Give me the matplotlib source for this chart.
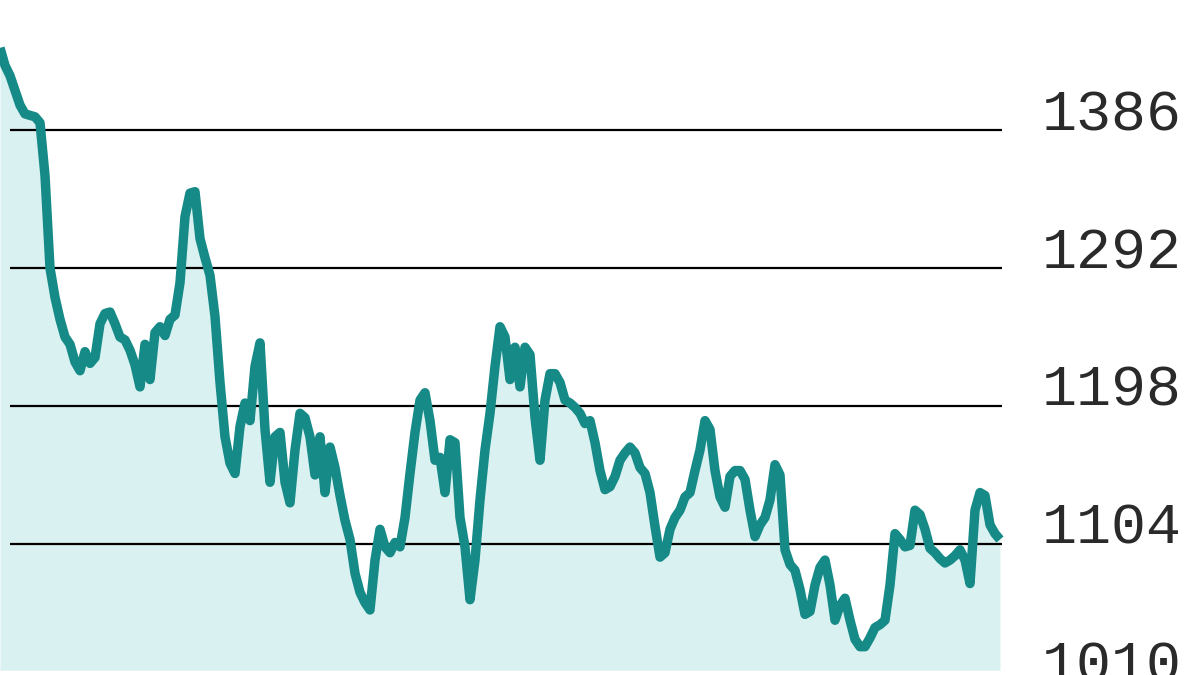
import numpy as np
import matplotlib
matplotlib.use("Agg")
from matplotlib import pyplot as plt
import matplotlib.transforms as mtransforms

# index level, one reading per step
levels = [
    1442, 1430, 1423, 1413, 1403, 1397, 1396, 1395, 1391, 1355,
    1292, 1272, 1257, 1245, 1240, 1228, 1222, 1235, 1227, 1231,
    1254, 1261, 1262, 1254, 1245, 1243, 1236, 1226, 1211, 1240,
    1216, 1248, 1252, 1246, 1257, 1260, 1282, 1327, 1343, 1344,
    1312, 1299, 1287, 1259, 1214, 1177, 1159, 1152, 1184, 1200,
    1188, 1225, 1241, 1182, 1146, 1177, 1180, 1146, 1132, 1168,
    1193, 1190, 1177, 1151, 1177, 1139, 1170, 1156, 1137, 1120,
    1107, 1084, 1071, 1064, 1059, 1093, 1114, 1102, 1098, 1105,
    1102, 1122, 1152, 1180, 1202, 1207, 1188, 1161, 1163, 1139,
    1175, 1173, 1122, 1102, 1066, 1093, 1134, 1168, 1193, 1225,
    1252, 1245, 1216, 1238, 1211, 1238, 1233, 1190, 1161, 1202,
    1220, 1220, 1214, 1202, 1200, 1197, 1193, 1186, 1188, 1173,
    1154, 1141, 1143, 1150, 1161, 1166, 1170, 1166, 1156, 1152,
    1139, 1116, 1095, 1098, 1114, 1122, 1127, 1136, 1139, 1154,
    1168, 1188, 1182, 1154, 1136, 1129, 1150, 1154, 1154, 1148,
    1127, 1109, 1117, 1122, 1134, 1158, 1151, 1100, 1090, 1086,
    1073, 1056, 1058, 1076, 1088, 1093, 1076, 1052, 1062, 1067,
    1052, 1039, 1034, 1034, 1040, 1047, 1049, 1052, 1076, 1111,
    1107, 1102, 1103, 1127, 1124, 1114, 1101, 1098, 1094, 1091,
    1093, 1096, 1100, 1093, 1077, 1127, 1139, 1137, 1117, 1111,
    1107,
]
grid_levels = [1386, 1292, 1198, 1104, 1010]
grid_labels = ["1386", "1292", "1198", "1104", "1010"]

LINE = "#168a87"
FILL = "#daf1f1"

x = np.arange(len(levels))
y = np.array(levels)

fig = plt.figure(figsize=(12, 6.75), dpi=100)
ax = fig.add_axes([0, 0, 1, 1])
ax.set_xlim(0, 240)
ax.set_ylim(1014.7, 1474.6)
ax.axis("off")

ax.fill_between(x, y, 1018, color=FILL, lw=0, zorder=1)
ax.hlines(grid_levels, 2, 200.4, color="black", lw=1.6, zorder=2)
ax.plot(x, y, color=LINE, lw=6.8, solid_joinstyle="round",
        solid_capstyle="butt", zorder=3)

# labels sit on their gridlines, right-hand side; the bottom one is cut off
trans = mtransforms.blended_transform_factory(ax.transAxes, ax.transData)
for lv, lab in zip(grid_levels, grid_labels):
    ax.text(0.985, lv, lab, transform=trans, ha="right", va="baseline",
            fontsize=42, family="Liberation Mono", color="#2a2a2a",
            clip_on=False)

fig.savefig("out.png", dpi=100)
plt.close(fig)
